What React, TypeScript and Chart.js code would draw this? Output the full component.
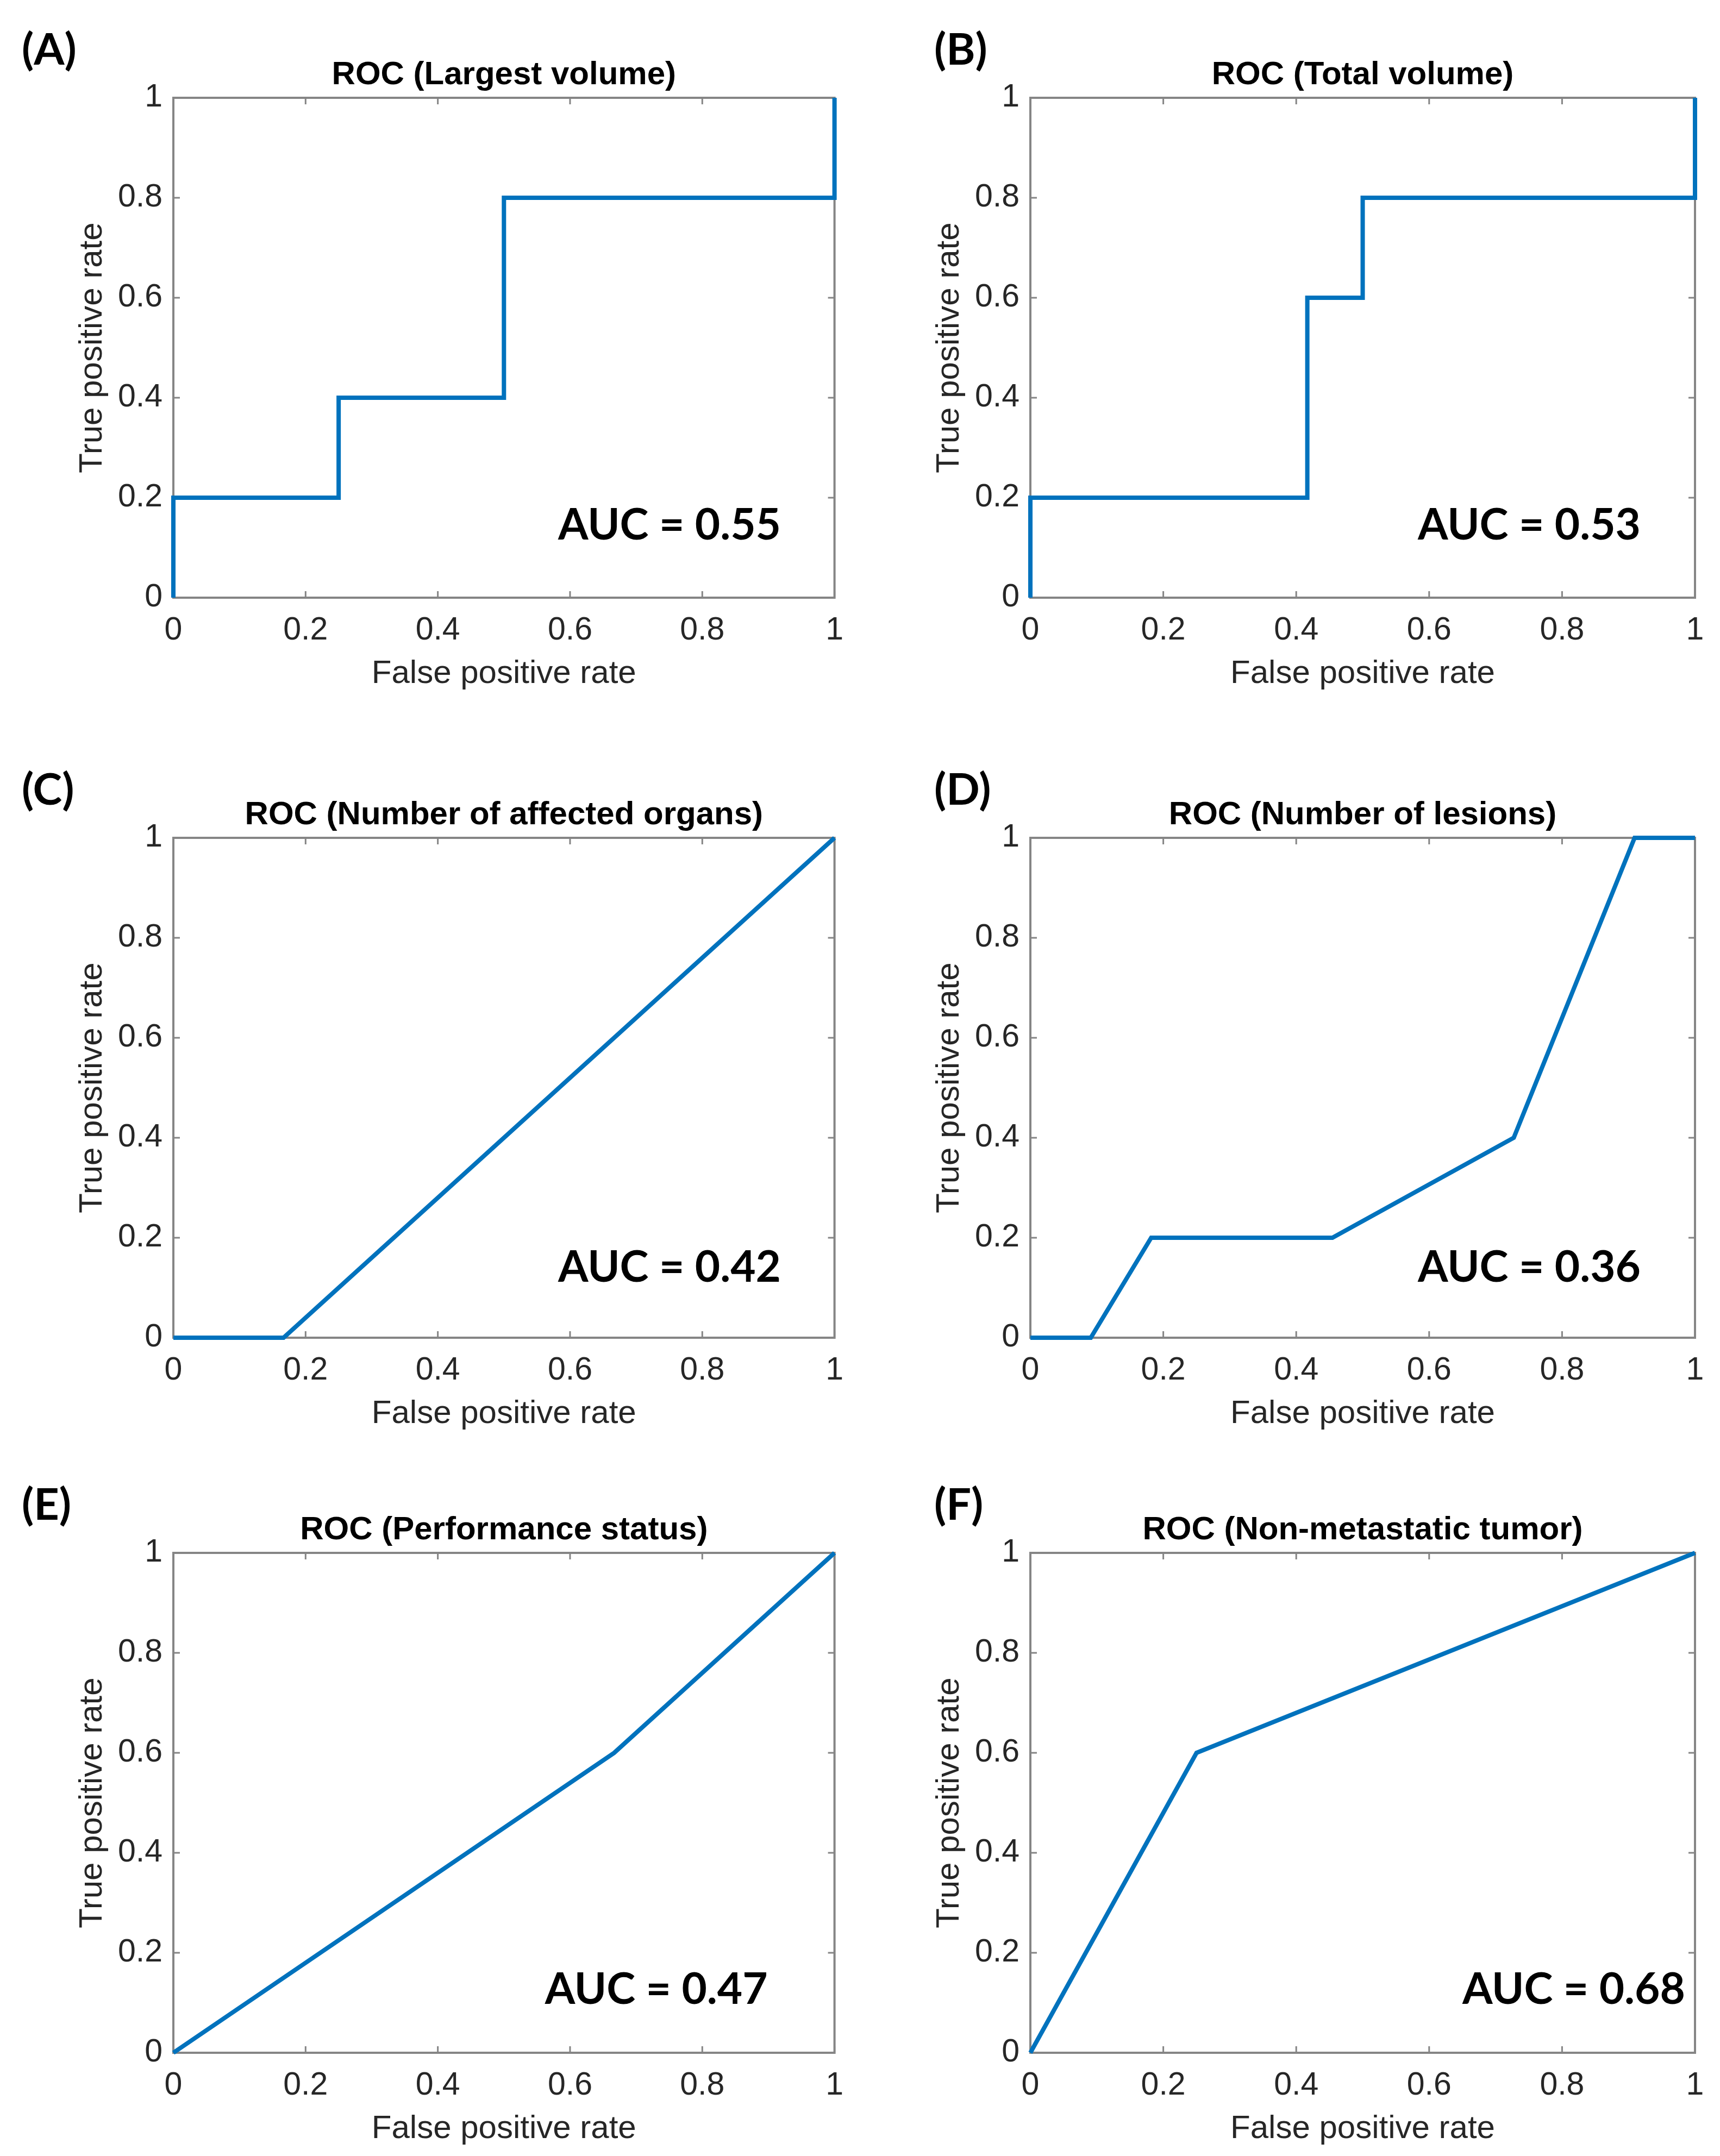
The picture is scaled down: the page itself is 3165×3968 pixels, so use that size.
import React, { useEffect, useRef } from 'react';
import { Chart, registerables } from 'chart.js';

Chart.register(...registerables);

// ---------- data ----------
const TICK_VALUES = [0, 0.2, 0.4, 0.6, 0.8, 1];
const TICK_LABELS = ['0', '0.2', '0.4', '0.6', '0.8', '1'];

const fprLargest = [0, 0, 0.25, 0.25, 0.5, 0.5, 1, 1];
const tprLargest = [0, 0.2, 0.2, 0.4, 0.4, 0.8, 0.8, 1];

const fprTotal = [0, 0, 0.4167, 0.4167, 0.5, 0.5, 1, 1];
const tprTotal = [0, 0.2, 0.2, 0.6, 0.6, 0.8, 0.8, 1];

const fprOrgans = [0, 0.1667, 1];
const tprOrgans = [0, 0, 1];

const fprLesions = [0, 0.0909, 0.1818, 0.4545, 0.7273, 0.9091, 1];
const tprLesions = [0, 0, 0.2, 0.2, 0.4, 1, 1];

const fprPerf = [0, 0.6667, 1];
const tprPerf = [0, 0.6, 1];

const fprNonMet = [0, 0.25, 1];
const tprNonMet = [0, 0.6, 1];

const LETTERS = ['(A)', '(B)', '(C)', '(D)', '(E)', '(F)'];
const TITLES = [
  'ROC (Largest volume)',
  'ROC (Total volume)',
  'ROC (Number of affected organs)',
  'ROC (Number of lesions)',
  'ROC (Performance status)',
  'ROC (Non-metastatic tumor)',
];
const AUC_LABELS = ['AUC = 0.55', 'AUC = 0.53', 'AUC = 0.42', 'AUC = 0.36', 'AUC = 0.47', 'AUC = 0.68'];
const X_TITLE = 'False positive rate';
const Y_TITLE = 'True positive rate';

// ---------- layout / style ----------
const SERIES = [
  [fprLargest, tprLargest],
  [fprTotal, tprTotal],
  [fprOrgans, tprOrgans],
  [fprLesions, tprLesions],
  [fprPerf, tprPerf],
  [fprNonMet, tprNonMet],
];
// AUC text anchor (left, baseline) in axis units
const AUC_POS = [
  [0.582, 0.116],
  [0.583, 0.116],
  [0.582, 0.112],
  [0.583, 0.112],
  [0.562, 0.098],
  [0.65, 0.098],
];

const COL_PLOT_LEFT = [319, 1896];
const PLOT_W = 1223;
const ROW_PLOT_TOP = [180, 1542, 2858];
const CANVAS_LEFT = [0, 1577];
const CANVAS_W = [1577, 1588];
const CANVAS_H = 1300;
const TOP_MARGIN = 180; // canvas top -> plot top
const X_AXIS_H = 200;
const LETTER_X = [40, 1719];
const LETTER_BASELINE = 119;

const FAMILY = "'Liberation Sans', Arial, Helvetica, sans-serif";
const BOLD_FAMILY = "Lato, 'Open Sans', sans-serif";
const LINE_COLOR = '#0072BD';
const AXIS_COLOR = '#858585';
const TEXT_COLOR = '#262626';

const framePlugin = {
  id: 'matlabFrame',
  beforeDatasetsDraw(chart: any) {
    const { ctx, chartArea: a, scales } = chart;
    ctx.save();
    ctx.strokeStyle = AXIS_COLOR;
    ctx.lineWidth = 4;
    ctx.strokeRect(a.left, a.top, a.right - a.left, a.bottom - a.top);
    ctx.lineWidth = 3;
    const tl = 12;
    ctx.beginPath();
    for (const t of scales.x.ticks) {
      const px = scales.x.getPixelForValue(t.value);
      ctx.moveTo(px, a.bottom);
      ctx.lineTo(px, a.bottom - tl);
      ctx.moveTo(px, a.top);
      ctx.lineTo(px, a.top + tl);
    }
    for (const t of scales.y.ticks) {
      const py = scales.y.getPixelForValue(t.value);
      ctx.moveTo(a.left, py);
      ctx.lineTo(a.left + tl, py);
      ctx.moveTo(a.right, py);
      ctx.lineTo(a.right - tl, py);
    }
    ctx.stroke();
    ctx.restore();
  },
  afterDraw(chart: any, _args: any, opts: any) {
    const { ctx, scales } = chart;
    ctx.save();
    ctx.fillStyle = '#000';
    ctx.textBaseline = 'alphabetic';
    ctx.textAlign = 'left';
    ctx.font = `bold 81px ${BOLD_FAMILY}`;
    ctx.fillText(opts.letter, opts.letterX, LETTER_BASELINE);
    ctx.font = `bold 80px ${BOLD_FAMILY}`;
    ctx.fillText(
      opts.auc,
      scales.x.getPixelForValue(opts.aucX),
      scales.y.getPixelForValue(opts.aucY)
    );
    ctx.restore();
  },
};

function Panel({ index }: { index: number }) {
  const ref = useRef<HTMLCanvasElement>(null);
  const col = index % 2;
  const row = Math.floor(index / 2);
  const left = CANVAS_LEFT[col];
  const top = ROW_PLOT_TOP[row] - TOP_MARGIN;
  const w = CANVAS_W[col];
  const h = CANVAS_H;
  const plotLeftInCanvas = COL_PLOT_LEFT[col] - left;
  const rightPad = w - (plotLeftInCanvas + PLOT_W);

  useEffect(() => {
    const [fpr, tpr] = SERIES[index];
    const chart = new Chart(ref.current as HTMLCanvasElement, {
      type: 'line',
      data: {
        datasets: [
          {
            data: fpr.map((x, i) => ({ x, y: tpr[i] })),
            borderColor: LINE_COLOR,
            backgroundColor: LINE_COLOR,
            borderWidth: 8,
            pointRadius: 0,
            tension: 0,
            fill: false,
            clip: false as any,
            borderJoinStyle: 'miter',
            borderCapStyle: 'butt',
          } as any,
        ],
      },
      options: {
        responsive: false,
        animation: false,
        devicePixelRatio: 1,
        layout: { padding: { left: 0, top: 0, right: rightPad, bottom: 0 } },
        plugins: {
          legend: { display: false },
          tooltip: { enabled: false },
          title: {
            display: true,
            text: TITLES[index],
            fullSize: false,
            color: '#000',
            font: { size: 60, weight: 'bold', family: FAMILY, lineHeight: 1.2 },
            padding: { top: 102, bottom: 6 },
          },
          matlabFrame: {
            letter: LETTERS[index],
            letterX: LETTER_X[col] - left,
            auc: AUC_LABELS[index],
            aucX: AUC_POS[index][0],
            aucY: AUC_POS[index][1],
          },
        } as any,
        scales: {
          x: {
            type: 'linear',
            min: 0,
            max: 1,
            afterBuildTicks: (s: any) => {
              s.ticks = TICK_VALUES.map((v) => ({ value: v }));
            },
            afterFit: (s: any) => {
              s.height = X_AXIS_H;
            },
            grid: { display: false, drawTicks: false },
            border: { display: false },
            ticks: {
              autoSkip: false,
              maxRotation: 0,
              padding: 25,
              color: TEXT_COLOR,
              font: { size: 59, family: FAMILY, lineHeight: 1.2 },
              callback: (_v: any, i: number) => TICK_LABELS[i],
            },
            title: {
              display: true,
              text: X_TITLE,
              color: TEXT_COLOR,
              font: { size: 60, family: FAMILY, lineHeight: 1.2 },
              padding: { top: 0, bottom: 24 },
            },
          },
          y: {
            type: 'linear',
            min: 0,
            max: 1,
            afterBuildTicks: (s: any) => {
              s.ticks = TICK_VALUES.map((v) => ({ value: v }));
            },
            afterFit: (s: any) => {
              s.width = plotLeftInCanvas;
            },
            grid: { display: false, drawTicks: false },
            border: { display: false },
            ticks: {
              autoSkip: false,
              padding: 20,
              color: TEXT_COLOR,
              font: { size: 59, family: FAMILY, lineHeight: 1.2 },
              callback: (_v: any, i: number) => TICK_LABELS[i],
            },
            title: {
              display: true,
              text: Y_TITLE,
              color: TEXT_COLOR,
              font: { size: 60, family: FAMILY, lineHeight: 1.2 },
              padding: { top: 134, bottom: 0 },
            },
          },
        },
      } as any,
      plugins: [framePlugin],
    });
    return () => chart.destroy();
  }, [index]);

  return (
    <canvas
      ref={ref}
      width={w}
      height={h}
      style={{ position: 'absolute', left: `${left}px`, top: `${top}px`, width: `${w}px`, height: `${h}px` }}
    />
  );
}

export default function App() {
  return (
    <div
      style={{
        position: 'absolute',
        left: 0,
        top: 0,
        width: '3165px',
        height: '3968px',
        background: '#ffffff',
        overflow: 'hidden',
      }}
    >
      {[0, 1, 2, 3, 4, 5].map((i) => (
        <Panel key={i} index={i} />
      ))}
    </div>
  );
}
